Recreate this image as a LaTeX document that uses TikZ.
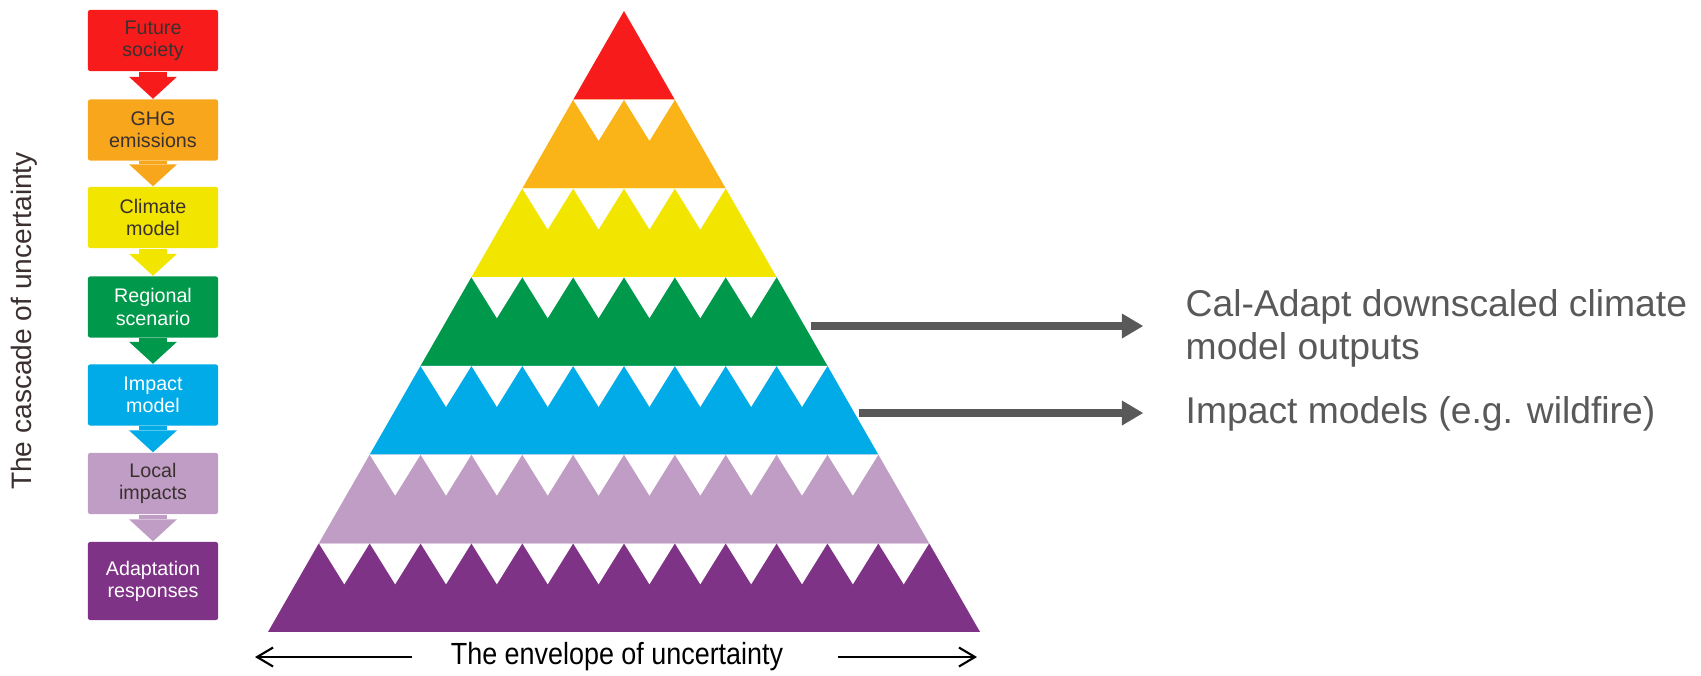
\documentclass[tikz,border=0pt]{standalone}
\usepackage{fontspec}
\setmainfont{Liberation Sans}
\newfontfamily\narrowsf[FakeStretch=0.88]{Liberation Sans}
\usetikzlibrary{arrows.meta}

\definecolor{cred}{HTML}{F81B1B}
\definecolor{corange}{HTML}{FBB417}
\definecolor{cboxorange}{HTML}{F8A71C}
\definecolor{cyellow}{HTML}{F2E500}
\definecolor{cgreen}{HTML}{00984A}
\definecolor{cblue}{HTML}{00ABE7}
\definecolor{clilac}{HTML}{C09DC4}
\definecolor{cpurple}{HTML}{7F3386}
\definecolor{cdark}{HTML}{3A3030}
\definecolor{cgrey}{HTML}{595959}

\begin{document}
\begin{tikzpicture}[x=0.01cm,y=-0.01cm,
  box/.style={minimum width=1.3cm,minimum height=0.61cm,inner sep=0pt,align=center,
    rounded corners=0.6pt,font=\fontsize{5.6}{6.3}\selectfont},
  casc arrow/.style={draw=#1,line width=0.28cm,
    -{Triangle[length=0.22cm,width=0.48cm,line width=0pt]}},
  out arrow/.style={draw=cgrey,line width=0.08cm,
    -{Triangle[length=0.21cm,width=0.25cm,line width=0pt]}},
  env arrow/.style={draw=black,line width=0.6pt,
    -{Straight Barb[length=0.16cm,width=0.19cm]}},
  side text/.style={inner sep=0pt,align=left,text=cgrey,font=\fontsize{10.6}{12.2}\selectfont}]
\useasboundingbox (0,0) rectangle (1701,675);

% cascade boxes
\node[box,fill=cred,text=cdark] (fs) at (153,40.5) {Future\\society};
\node[box,fill=cboxorange,text=cdark] (ghg) at (153,130) {GHG\\emissions};
\node[box,fill=cyellow,text=cdark] (cm) at (153,217.5) {Climate\\model};
\node[box,fill=cgreen,text=white] (rs) at (153,307) {Regional\\scenario};
\node[box,fill=cblue,text=white] (im) at (153,395) {Impact\\model};
\node[box,fill=clilac,text=cdark] (li) at (153,483.5) {Local\\impacts};
\node[box,fill=cpurple,text=white,minimum height=0.78cm] (ar) at (153,581) {Adaptation\\responses};

\draw[casc arrow=cred] (fs) -- (ghg);
\draw[casc arrow=cboxorange] (ghg) -- (cm);
\draw[casc arrow=cyellow] (cm) -- (rs);
\draw[casc arrow=cgreen] (rs) -- (im);
\draw[casc arrow=cblue] (im) -- (li);
\draw[casc arrow=clilac] (li) -- (ar);

\node[rotate=90,inner sep=0pt,font=\fontsize{8}{9}\selectfont,text=cdark] (cascade) at (24,321) {The cascade of uncertainty};

% pyramid bands
\foreach \k/\col in {0/cred,1/corange,2/cyellow,3/cgreen,4/cblue,5/clilac,6/cpurple}
  \fill[\col] ({624-50.86*\k},{11+88.71*\k}) -- ({624+50.86*\k},{11+88.71*\k})
    -- ({624+50.86*(\k+1)},{11+88.71*(\k+1)}) -- ({624-50.86*(\k+1)},{11+88.71*(\k+1)}) -- cycle;

% white teeth
\foreach \k in {1,...,6}{
  \pgfmathtruncatemacro\last{2*\k-1}
  \foreach \i in {0,...,\last}
    \fill[white] ({624-50.86*\k+50.86*\i},{11+88.71*\k}) -- ({624-50.86*\k+50.86*(\i+1)},{11+88.71*\k})
      -- ({624-50.86*\k+50.86*(\i+0.5)},{52+88.71*\k}) -- cycle;
}

% outputs
\node[side text,anchor=west] (adapt) at (1185,328) {Cal-Adapt downscaled climate\\model outputs};
\node[side text,anchor=west] (impact) at (1185,414) {Impact models (e.g. wildfire)};
\coordinate (c1) at (811,326);
\coordinate (c2) at (859,413);
\draw[out arrow,shorten >=0.42cm] (c1) -- (c1 -| adapt.west);
\draw[out arrow,shorten >=0.42cm] (c2) -- (c2 -| impact.west);

% envelope
\node[inner sep=0pt,font=\narrowsf\fontsize{8.7}{10}\selectfont] (env) at (617,657) {The envelope of uncertainty};
\coordinate (envL) at (255,657);
\coordinate (envR) at (977,657);
\draw[env arrow,shorten <=0.38cm] (env.west) -- (envL);
\draw[env arrow,shorten <=0.54cm] (env.east) -- (envR);
\end{tikzpicture}
\end{document}
